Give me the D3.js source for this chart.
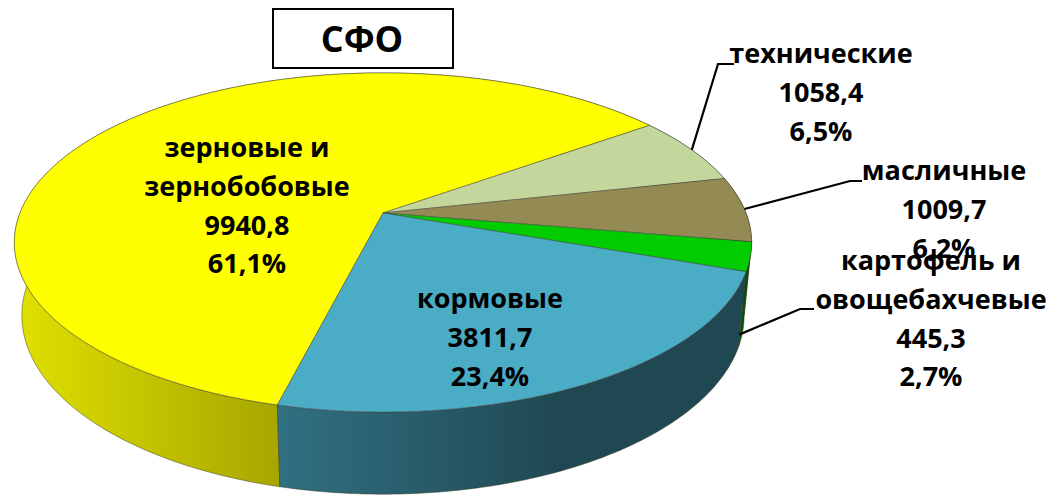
<!DOCTYPE html>
<html>
<head>
<meta charset="utf-8">
<script src="https://cdn.jsdelivr.net/npm/d3@7"></script>
<style>
  body { margin: 0; background: #fff; }
  text { font-family: 'Open Sans', 'Noto Sans', sans-serif; font-weight: bold; }
</style>
</head>
<body>
<div id="chart"></div>
<script>
// data, in clockwise order starting from the yellow slice
const categories = [
  ['зерновые и', 'зернобобовые'],
  ['технические'],
  ['масличные'],
  ['картофель и', 'овощебахчевые'],
  ['кормовые'],
];
const values = [9940.8, 1058.4, 1009.7, 445.3, 3811.7];
const colors = ['#FFFF00', '#C3D69B', '#948A54', '#00CC00', '#4BACC6'];
const title = 'СФО';

const width = 1046;
const height = 499;

// 3d view of the disk
const cx = 383;
const cy = 213;
const scale = 363;
const sinA = 0.453;
const cosA = Math.sqrt(1 - sinA * sinA);
const dist = 5.126;
const depth = 0.227;
const startDeg = 194;

const xScale = d3.scaleLinear().domain([0, 1]).range([cx, cx + scale]);
const yScale = d3.scaleLinear().domain([0, 1]).range([cy, cy + scale]);

const proj = (theta, r, h) => {
  const x = r * Math.sin(theta);
  const z = -r * Math.cos(theta);
  const k = dist / (dist - z * cosA + h * sinA);
  return [xScale(x * k), yScale((z * sinA + h * cosA) * k)];
};

const locale = d3.formatLocale({ decimal: ',', thousands: ' ', grouping: [3] });
const fmtVal = locale.format('.1f');
const fmtPct = locale.format('.1%');

const total = d3.sum(values);
const pie = d3.pie().sort(null)
  .startAngle(startDeg * Math.PI / 180)
  .endAngle(startDeg * Math.PI / 180 + 2 * Math.PI);
const arcs = pie(values);

const svg = d3.select('#chart')
  .append('svg')
  .attr('width', width)
  .attr('height', height);

// side shading gradients
const defs = svg.append('defs');
const shadeStops = [[0, 0.88], [0.36, 0.65], [0.74, 0.42], [1, 0.42]];
colors.forEach((c, i) => {
  const g = defs.append('linearGradient')
    .attr('id', `side${i}`)
    .attr('gradientUnits', 'userSpaceOnUse')
    .attr('x1', xScale(-1.01)).attr('x2', xScale(1.01))
    .attr('y1', 0).attr('y2', 0);
  const base = d3.rgb(c);
  shadeStops.forEach(([o, f]) => {
    g.append('stop')
      .attr('offset', o)
      .attr('stop-color', d3.rgb(base.r * f, base.g * f, base.b * f).formatHex());
  });
});

const line = d3.line();
const sample = (a0, a1, r, h) => {
  const n = Math.max(2, Math.ceil((a1 - a0) / 0.01));
  return d3.range(n + 1).map((j) => proj(a0 + (a1 - a0) * j / n, r, h));
};

// outer walls, back to front
const walls = arcs.map((d, i) => ({ d, i }))
  .sort((a, b) => -Math.cos((a.d.startAngle + a.d.endAngle) / 2)
    + Math.cos((b.d.startAngle + b.d.endAngle) / 2));

svg.append('g')
  .selectAll('path')
  .data(walls)
  .enter()
  .append('path')
  .attr('d', ({ d }) => {
    const top = sample(d.startAngle, d.endAngle, 1, 0);
    const bottom = sample(d.startAngle, d.endAngle, 1, depth).reverse();
    return `${line(top.concat(bottom))}Z`;
  })
  .attr('fill', ({ i }) => `url(#side${i})`)
  .attr('stroke', '#3a3a20')
  .attr('stroke-opacity', 0.7)
  .attr('stroke-width', 0.7)
  .attr('stroke-linejoin', 'round');

// top faces
svg.append('g')
  .selectAll('path')
  .data(arcs)
  .enter()
  .append('path')
  .attr('d', (d) => `${line([proj(0, 0, 0)].concat(sample(d.startAngle, d.endAngle, 1, 0)))}Z`)
  .attr('fill', (d, i) => colors[i])
  .attr('stroke', '#404040')
  .attr('stroke-opacity', 0.7)
  .attr('stroke-width', 0.7)
  .attr('stroke-linejoin', 'round');

// label layout: text centre x, first baseline, leader elbow, anchor on the rim
const layout = [
  { x: 247, y: 157 },
  { x: 821, y: 63, elbow: [[718, 64], [734, 64]], h: 0, shift: 0 },
  { x: 944, y: 180, elbow: [[850, 181], [862, 181]], h: 0, shift: 0 },
  { x: 931, y: 270, elbow: [[800, 309], [814, 309]], h: 0.8, shift: 0.1 },
  { x: 490, y: 308 },
];
const lineGap = 38.8;

const labels = svg.append('g');
arcs.forEach((d, i) => {
  const l = layout[i];
  if (l.elbow) {
    const mid = (d.startAngle + d.endAngle) / 2 + l.shift;
    const anchor = proj(mid, 1, l.h * depth);
    labels.append('path')
      .attr('d', line([anchor].concat(l.elbow)))
      .attr('fill', 'none')
      .attr('stroke', '#000')
      .attr('stroke-width', 2.2);
  }
  const lines = categories[i].concat([fmtVal(values[i]), fmtPct(values[i] / total)]);
  const t = labels.append('text')
    .attr('text-anchor', 'middle')
    .style('font-size', '27px')
    .attr('fill', '#000');
  lines.forEach((s, j) => {
    t.append('tspan')
      .attr('x', l.x)
      .attr('y', l.y + j * lineGap)
      .text(s);
  });
});

// title box
const titleGroup = svg.append('g');
titleGroup.append('rect')
  .attr('x', 273)
  .attr('y', 9)
  .attr('width', 180)
  .attr('height', 59)
  .attr('fill', '#fff')
  .attr('stroke', '#000')
  .attr('stroke-width', 2);
titleGroup.append('text')
  .attr('x', 362)
  .attr('y', 52)
  .attr('text-anchor', 'middle')
  .style('font-size', '36px')
  .text(title);
</script>
</body>
</html>
